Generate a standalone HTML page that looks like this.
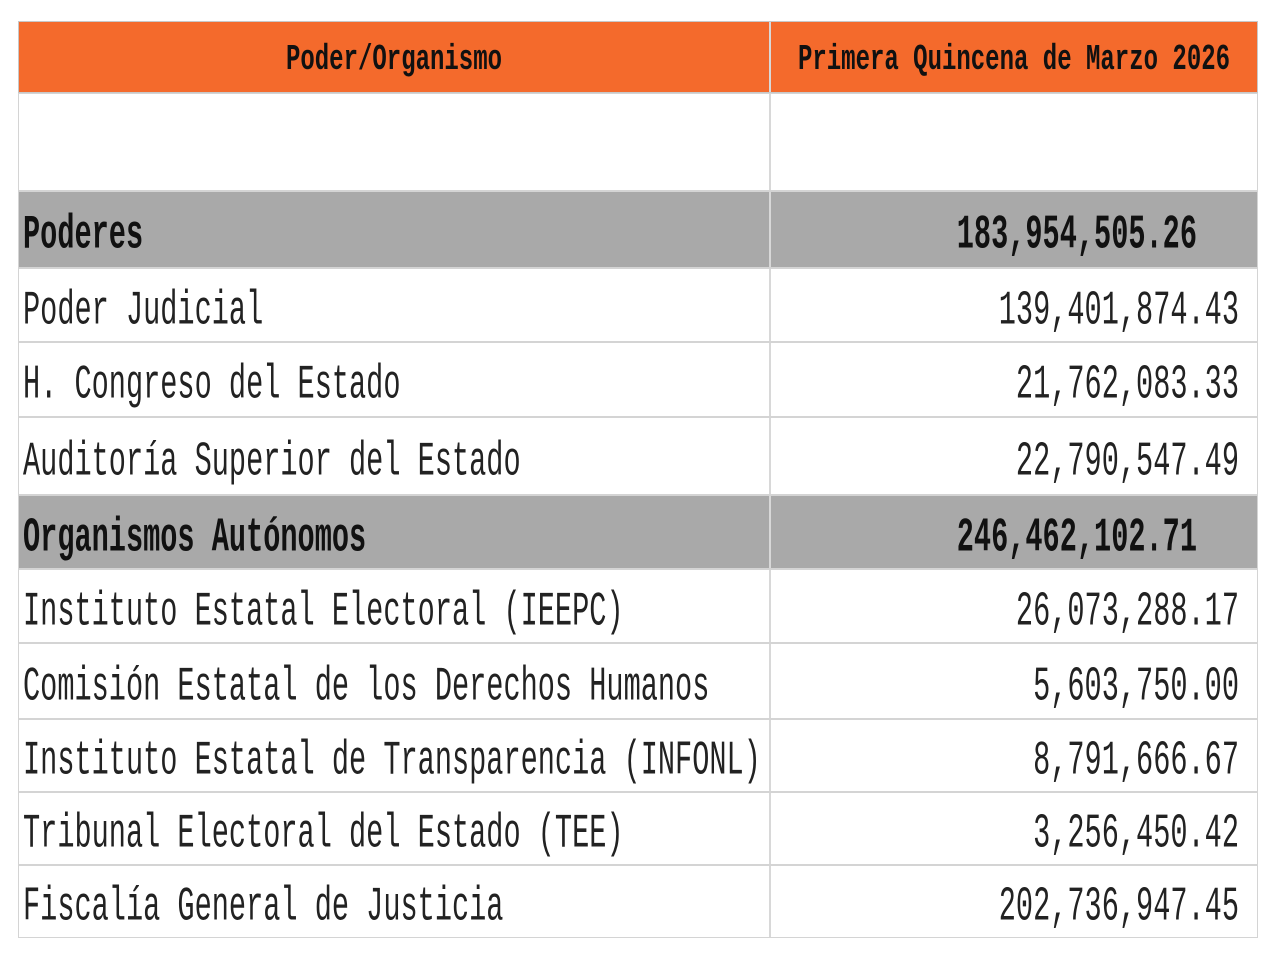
<!DOCTYPE html>
<html><head><meta charset="utf-8"><style>
body{margin:0;width:1280px;height:960px;background:#fff;position:relative;overflow:hidden;font-family:"Liberation Mono",monospace;}
.r{position:absolute;left:18px;width:1240px;border:1px solid #d4d4d4;box-sizing:border-box;}
.c{position:absolute;top:0;bottom:0;display:flex;align-items:center;}
.c1{left:0;width:750px;padding-left:4px;box-sizing:border-box;}
.c2{left:750px;right:0;border-left:2px solid #d8d8d8;justify-content:flex-end;padding-right:18px;box-sizing:border-box;}
.t{display:inline-block;font-size:28.6px;color:#222;transform:translateY(5px) scaleY(1.7);white-space:pre;}
.h{background:#f46a2c;border-color:#c8c8c8;}
.h .c{justify-content:center;padding:0;}
.h .t{font-size:24px;font-weight:bold;transform:translateY(3px) scaleY(1.5);color:#111;}
.g{background:#a9a9a9;}
.g .t{font-weight:bold;color:#111;}
.g .c2{padding-right:60px;}
</style></head><body>
<div class="r h" style="top:21px;height:72px">
 <div class="c c1"><span class="t">Poder/Organismo</span></div>
 <div class="c c2"><span class="t">Primera Quincena de Marzo 2026</span></div>
</div>
<div class="r" style="top:93px;height:98px"><div class="c c1"></div><div class="c c2"></div></div>
<div class="r g" style="top:191px;height:77px"><div class="c c1"><span class="t">Poderes</span></div><div class="c c2"><span class="t">183,954,505.26</span></div></div>
<div class="r" style="top:268px;height:74px"><div class="c c1"><span class="t">Poder Judicial</span></div><div class="c c2"><span class="t">139,401,874.43</span></div></div>
<div class="r" style="top:342px;height:75px"><div class="c c1"><span class="t">H. Congreso del Estado</span></div><div class="c c2"><span class="t">21,762,083.33</span></div></div>
<div class="r" style="top:417px;height:78px"><div class="c c1"><span class="t">Auditoría Superior del Estado</span></div><div class="c c2"><span class="t">22,790,547.49</span></div></div>
<div class="r g" style="top:495px;height:74px"><div class="c c1"><span class="t">Organismos Autónomos</span></div><div class="c c2"><span class="t">246,462,102.71</span></div></div>
<div class="r" style="top:569px;height:74px"><div class="c c1"><span class="t">Instituto Estatal Electoral (IEEPC)</span></div><div class="c c2"><span class="t">26,073,288.17</span></div></div>
<div class="r" style="top:643px;height:76px"><div class="c c1"><span class="t">Comisión Estatal de los Derechos Humanos</span></div><div class="c c2"><span class="t">5,603,750.00</span></div></div>
<div class="r" style="top:719px;height:73px"><div class="c c1"><span class="t">Instituto Estatal de Transparencia (INFONL)</span></div><div class="c c2"><span class="t">8,791,666.67</span></div></div>
<div class="r" style="top:792px;height:73px"><div class="c c1"><span class="t">Tribunal Electoral del Estado (TEE)</span></div><div class="c c2"><span class="t">3,256,450.42</span></div></div>
<div class="r" style="top:865px;height:73px"><div class="c c1"><span class="t">Fiscalía General de Justicia</span></div><div class="c c2"><span class="t">202,736,947.45</span></div></div>
</body></html>
